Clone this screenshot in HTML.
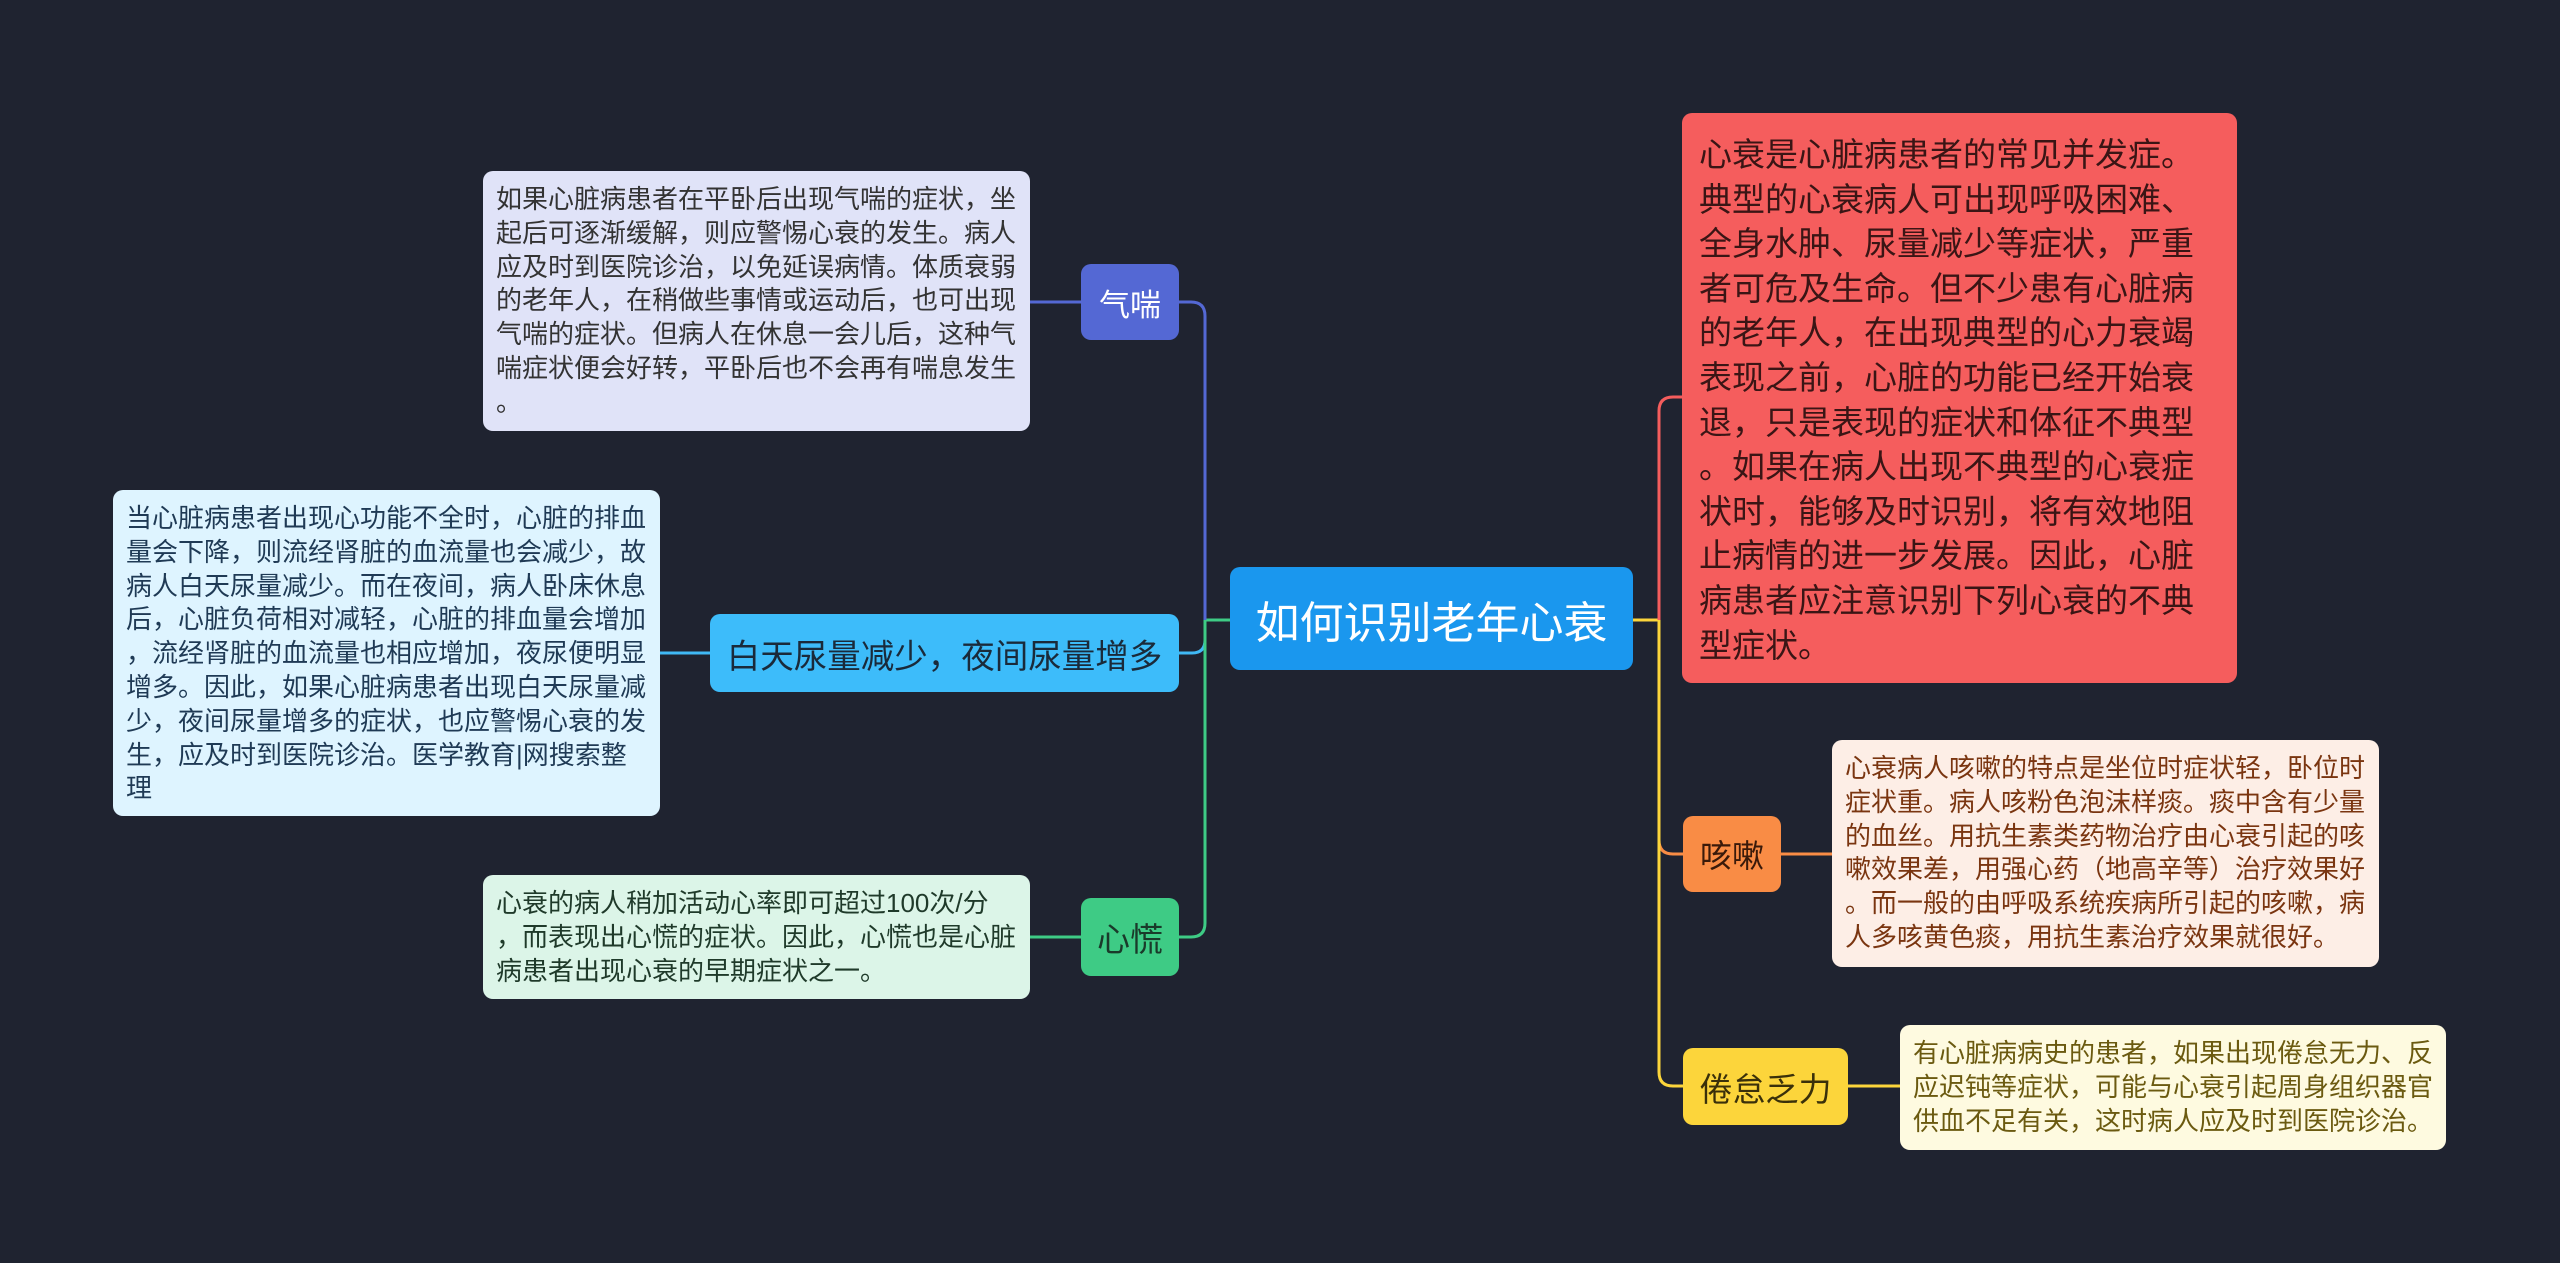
<!DOCTYPE html>
<html><head><meta charset="utf-8"><style>
body{margin:0;width:2560px;height:1263px;background:#1f2330;position:relative;overflow:hidden;font-family:"Liberation Sans","Noto Sans CJK SC",sans-serif}
.b{position:absolute;box-sizing:border-box;border-radius:10px;white-space:nowrap}
.n{display:flex;align-items:center;justify-content:center}
.t{font-size:26px;line-height:33.8px;padding:12px 13px;color:#333}
svg{position:absolute;left:0;top:0}
</style></head><body>
<svg width="2560" height="1263" fill="none" stroke-width="3">
<path d="M1230 620 H1205" stroke="#3ecb85"/>
<path d="M1205 620 V316 Q1205 302 1191 302 H1179" stroke="#5468d4"/>
<path d="M1205 620 V640 Q1205 653 1192 653 H1179" stroke="#40b9f5"/>
<path d="M1205 620 V923 Q1205 937 1191 937 H1179" stroke="#3ecb85"/>
<path d="M1081 302 H1030" stroke="#5468d4"/>
<path d="M710 653 H660" stroke="#40b9f5"/>
<path d="M1081 937 H1030" stroke="#3ecb85"/>
<path d="M1633 620 H1659" stroke="#fcd53b"/>
<path d="M1659 620 V411 Q1659 397 1673 397 H1682" stroke="#f55d5d"/>
<path d="M1659 620 V840 Q1659 854 1673 854 H1683" stroke="#f98c45"/>
<path d="M1659 620 V1072 Q1659 1086 1673 1086 H1683" stroke="#fcd53b"/>
<path d="M1781 854 H1832" stroke="#f98c45"/>
<path d="M1848 1086 H1900" stroke="#fcd53b"/>
</svg>
<div class="b n" style="left:1230px;top:567px;width:403px;height:103px;background:#1a97ee;color:#fff;font-size:44px">如何识别老年心衰</div>
<div class="b" style="left:1682px;top:113px;width:555px;height:570px;background:#f55d5d;color:#3a1515;font-size:33px;line-height:44.6px;padding:20px 17px">心衰是心脏病患者的常见并发症。<br>典型的心衰病人可出现呼吸困难、<br>全身水肿、尿量减少等症状，严重<br>者可危及生命。但不少患有心脏病<br>的老年人，在出现典型的心力衰竭<br>表现之前，心脏的功能已经开始衰<br>退，只是表现的症状和体征不典型<br>。如果在病人出现不典型的心衰症<br>状时，能够及时识别，将有效地阻<br>止病情的进一步发展。因此，心脏<br>病患者应注意识别下列心衰的不典<br>型症状。</div>
<div class="b n" style="left:1081px;top:264px;width:98px;height:76px;background:#5468d4;color:#fff;font-size:31px">气喘</div>
<div class="b t" style="left:483px;top:171px;width:547px;height:260px;background:#e0e3f8">如果心脏病患者在平卧后出现气喘的症状，坐<br>起后可逐渐缓解，则应警惕心衰的发生。病人<br>应及时到医院诊治，以免延误病情。体质衰弱<br>的老年人，在稍做些事情或运动后，也可出现<br>气喘的症状。但病人在休息一会儿后，这种气<br>喘症状便会好转，平卧后也不会再有喘息发生<br>。</div>
<div class="b n" style="left:710px;top:614px;width:469px;height:78px;background:#3dbcfa;color:#1a2a3a;font-size:33.5px">白天尿量减少，夜间尿量增多</div>
<div class="b t" style="left:113px;top:490px;width:547px;height:326px;background:#def4ff;color:#1f3a55">当心脏病患者出现心功能不全时，心脏的排血<br>量会下降，则流经肾脏的血流量也会减少，故<br>病人白天尿量减少。而在夜间，病人卧床休息<br>后，心脏负荷相对减轻，心脏的排血量会增加<br>，流经肾脏的血流量也相应增加，夜尿便明显<br>增多。因此，如果心脏病患者出现白天尿量减<br>少，夜间尿量增多的症状，也应警惕心衰的发<br>生，应及时到医院诊治。医学教育|网搜索整<br>理</div>
<div class="b n" style="left:1081px;top:898px;width:98px;height:78px;background:#3ecb85;color:#1a3a2a;font-size:33px">心慌</div>
<div class="b t" style="left:483px;top:875px;width:547px;height:124px;background:#dcf5e8;color:#1f3a2a">心衰的病人稍加活动心率即可超过100次/分<br>，而表现出心慌的症状。因此，心慌也是心脏<br>病患者出现心衰的早期症状之一。</div>
<div class="b n" style="left:1683px;top:816px;width:98px;height:76px;background:#f98c45;color:#3a1a0a;font-size:32px">咳嗽</div>
<div class="b t" style="left:1832px;top:740px;width:547px;height:227px;background:#fdeee6;color:#7a3510">心衰病人咳嗽的特点是坐位时症状轻，卧位时<br>症状重。病人咳粉色泡沫样痰。痰中含有少量<br>的血丝。用抗生素类药物治疗由心衰引起的咳<br>嗽效果差，用强心药（地高辛等）治疗效果好<br>。而一般的由呼吸系统疾病所引起的咳嗽，病<br>人多咳黄色痰，用抗生素治疗效果就很好。</div>
<div class="b n" style="left:1683px;top:1048px;width:165px;height:77px;background:#fcd53b;color:#3a300a;font-size:33px">倦怠乏力</div>
<div class="b t" style="left:1900px;top:1025px;width:546px;height:125px;background:#fefae0;color:#6b5a10">有心脏病病史的患者，如果出现倦怠无力、反<br>应迟钝等症状，可能与心衰引起周身组织器官<br>供血不足有关，这时病人应及时到医院诊治。</div>
</body></html>
